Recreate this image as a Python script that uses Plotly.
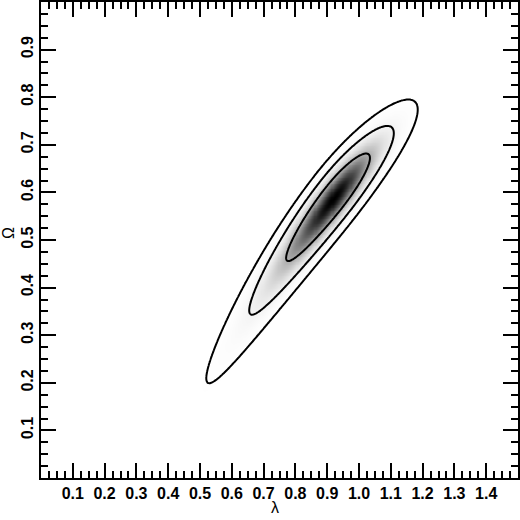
"""
Posterior density of (lambda, Omega): grey shading plus 68/95/99.7% contours.
"""

import numpy as np
import plotly.graph_objects as go

# --- values ------------------------------------------------------------------
peak = [0.92, 0.588]               # (lambda, Omega) of the density maximum
major_dir = [0.747, 0.665]         # direction of the long axis (lambda, Omega)
sigma_upper = 0.095                # spread along the long axis, upper side
sigma_lower = [0.1128, 0.773]      # lower side: base spread, growth of the tail
sigma_minor = 0.0217               # spread across the long axis
ridge = [-0.0308, 0.1335]          # tilt and bend of the ridge line
contour_chi2 = [2.30, 6.18, 11.83]  # 1, 2, 3 sigma levels (2 dof)

x_ticks = [0.1, 0.2, 0.3, 0.4, 0.5, 0.6, 0.7, 0.8, 0.9, 1.0, 1.1, 1.2, 1.3, 1.4]
y_ticks = [0.1, 0.2, 0.3, 0.4, 0.5, 0.6, 0.7, 0.8, 0.9]
x_range = [0.0, 1.5]
y_range = [0.0, 1.0]

# --- density grid -------------------------------------------------------------
lam = np.linspace(x_range[0], x_range[1], 451)
om = np.linspace(y_range[0], y_range[1], 301)
L, O = np.meshgrid(lam, om)

dx, dy = L - peak[0], O - peak[1]
u = dx * major_dir[0] + dy * major_dir[1]
v = -dx * major_dir[1] + dy * major_dir[0]
v = v - (ridge[0] * u - ridge[1] * u ** 2)
s_u = np.where(u >= 0, sigma_upper, sigma_lower[0] * (1 + sigma_lower[1] * np.abs(u)))
chi2 = (u / s_u) ** 2 + (v / sigma_minor) ** 2
dens = np.exp(-0.5 * chi2)

fig = go.Figure()
fig.add_trace(
    go.Heatmap(
        x=lam, y=om, z=dens,
        colorscale=[[0, "white"], [1, "black"]],
        zmin=0, zmax=1, zsmooth="best", showscale=False, hoverinfo="skip",
    )
)
for lev in contour_chi2:
    fig.add_trace(
        go.Contour(
            x=lam, y=om, z=chi2,
            contours=dict(start=lev, end=lev, size=1, coloring="none"),
            line=dict(color="black", width=2),
            showscale=False, hoverinfo="skip",
        )
    )

tick_font = dict(family="Liberation Sans", size=16, color="black", weight="bold")
axis_common = dict(
    showline=True, linecolor="black", linewidth=2, mirror="allticks",
    ticks="inside", ticklen=15, tickwidth=1.6, tickcolor="black",
    tickfont=tick_font, showgrid=False, zeroline=False, automargin=False,
    ticklabelstandoff=0,
    minor=dict(ticks="inside", ticklen=7, tickwidth=1.6, tickcolor="black",
               dtick=0.025, tick0=0, showgrid=False),
)

fig.update_xaxes(
    range=x_range, tickvals=x_ticks, ticktext=[f"{t:.1f}" for t in x_ticks],
    **axis_common,
)
fig.update_yaxes(
    range=y_range, tickvals=y_ticks, ticktext=[f"{t:.1f}" for t in y_ticks],
    tickangle=-90,
    **axis_common,
)

title_font = dict(family="Liberation Sans", size=16, color="black")
fig.add_annotation(text="λ", xref="paper", yref="paper", x=0.49, y=-0.063,
                   xanchor="center", yanchor="middle", showarrow=False, font=title_font)
fig.add_annotation(text="Ω", xref="paper", yref="paper", x=-0.068, y=0.514,
                   xanchor="center", yanchor="middle", textangle=-90,
                   showarrow=False, font=title_font)

fig.update_layout(
    width=520, height=520,
    margin=dict(l=41, r=2, t=2, b=42),
    plot_bgcolor="white", paper_bgcolor="white",
    showlegend=False,
)

# page default body margin would shift the 520x520 figure out of the window
fig.write_html(
    "out.html",
    config={"displayModeBar": False},
    post_script="document.body.style.margin='0';",
)
